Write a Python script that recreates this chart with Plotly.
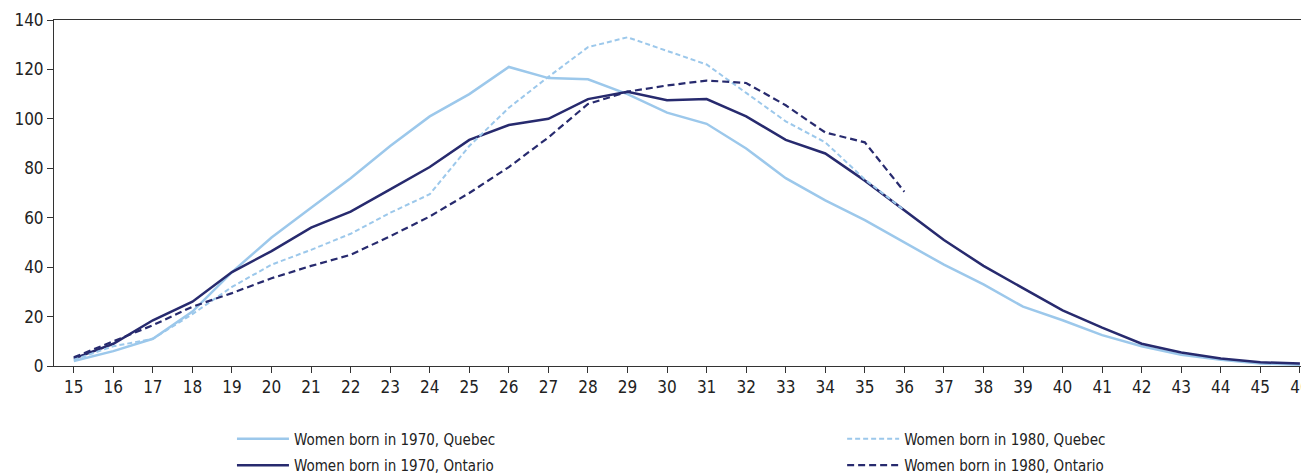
import plotly.graph_objects as go

ages = list(range(15, 47))
ages_1980 = list(range(15, 37))

quebec_1970 = [2, 6, 11, 22, 38, 52, 64, 76, 89, 101, 110, 121, 116.5, 116, 110, 102.5,
               98, 88, 76, 67, 59, 50, 41, 33, 24, 18.5, 12.5, 8, 4.5, 2.5, 1, 0.5]
ontario_1970 = [3, 9, 18.5, 26, 38, 46.5, 56, 62.5, 71.5, 80.5, 91.5, 97.5, 100, 108, 111, 107.5,
                108, 101, 91.5, 86, 75, 63, 51, 40.5, 31.5, 22.5, 15.5, 9, 5.5, 3, 1.5, 1]
quebec_1980 = [2.5, 8, 11, 21, 32, 41, 47, 53.5, 62, 69.5, 89, 104.5, 117, 129, 133, 127.5,
               122, 110.5, 99, 90.5, 75.5, 63]
ontario_1980 = [3.5, 10, 16.5, 24, 29.5, 35.5, 40.5, 45, 52.5, 60.5, 70, 80.5, 92.5, 106, 111, 113.5,
                115.5, 114.5, 105.5, 94.5, 90.5, 70.5]

light = "#9CC8EB"
dark = "#272A6E"
font = "DejaVu Sans Condensed, sans-serif"

fig = go.Figure()
fig.add_trace(go.Scatter(x=ages, y=quebec_1970, mode="lines", name="Women born in 1970, Quebec",
                         line=dict(color=light, width=2.5), legend="legend", legendgroup="a"))
fig.add_trace(go.Scatter(x=ages, y=ontario_1970, mode="lines", name="Women born in 1970, Ontario",
                         line=dict(color=dark, width=2.5), legend="legend", legendgroup="b"))
fig.add_trace(go.Scatter(x=ages_1980, y=quebec_1980, mode="lines", name="Women born in 1980, Quebec",
                         line=dict(color=light, width=2, dash="5px,3px"), legend="legend2", legendgroup="c"))
fig.add_trace(go.Scatter(x=ages_1980, y=ontario_1980, mode="lines", name="Women born in 1980, Ontario",
                         line=dict(color=dark, width=2.2, dash="7px,4px"), legend="legend2", legendgroup="d"))

leg = dict(orientation="v", yanchor="top", xanchor="left", y=-0.163, itemwidth=52,
           bgcolor="rgba(0,0,0,0)", tracegroupgap=4, traceorder="grouped",
           font=dict(family=font, size=15, color="#222222"))

# the page body adds an 8px margin, so the figure is made 8px smaller on each side
fig.update_layout(
    width=1301, height=467,
    margin=dict(l=46, r=0, t=12, b=109, autoexpand=False),
    plot_bgcolor="white", paper_bgcolor="white",
    font=dict(family=font, size=17, color="#222222"),
    showlegend=True,
    legend=dict(leg, x=0.1418),
    legend2=dict(leg, x=0.628),
    xaxis=dict(range=[14.5, 46.23], tickmode="array", tickvals=ages, showgrid=False,
               zeroline=False, showline=True, linecolor="#333333", linewidth=1, mirror=True,
               ticks="outside", ticklen=6, tickcolor="#333333", automargin=False,
               ticklabeloverflow="allow"),
    yaxis=dict(range=[0, 140], dtick=20, showgrid=False, zeroline=False,
               showline=True, linecolor="#333333", linewidth=1,
               ticks="outside", ticklen=6, tickcolor="#333333", automargin=False),
)

fig.write_html("out.html")
